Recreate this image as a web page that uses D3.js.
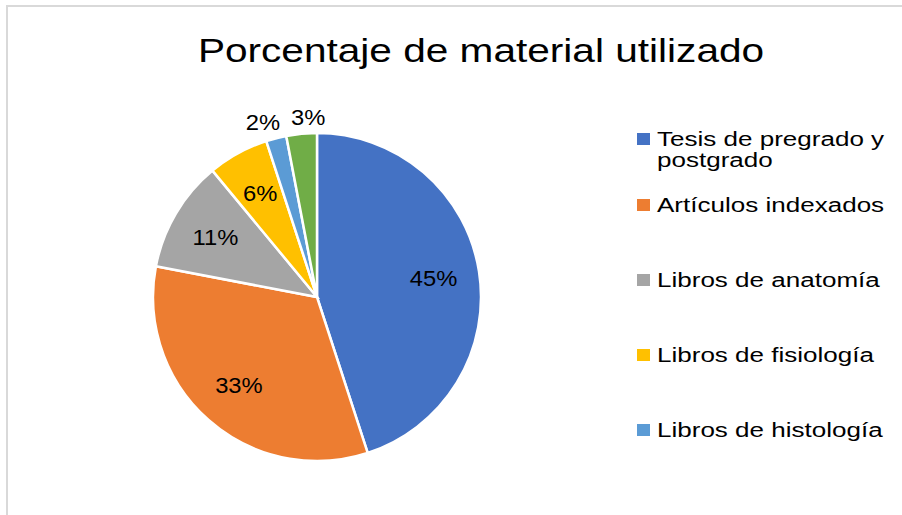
<!DOCTYPE html>
<html>
<head>
<meta charset="utf-8">
<script src="https://cdn.jsdelivr.net/npm/d3@7"></script>
<style>
  body { margin: 0; background: #fff; }
  text { font-family: "Liberation Sans", Arial, sans-serif; fill: #000; }
</style>
</head>
<body>
<div id="chart"></div>
<script>
// data
var categories = ["Tesis de pregrado y postgrado", "Artículos indexados", "Libros de anatomía",
                  "Libros de fisiología", "Libros de histología", "Otros"];
var percents = [45, 33, 11, 6, 2, 3];
var colors = ["#4472C4", "#ED7D31", "#A5A5A5", "#FFC000", "#5B9BD5", "#70AD47"];
// legend in the original only shows the first five entries (cut off)
var legendLines = [["Tesis de pregrado y", "postgrado"], ["Artículos indexados"], ["Libros de anatomía"],
                   ["Libros de fisiología"], ["Libros de histología"]];

var width = 902, height = 515;
var cx = 317, cy = 297, radius = 164;

var svg = d3.select("#chart")
    .append("svg")
    .attr("width", width)
    .attr("height", height);

// chart frame (only top and left visible)
svg.append("path")
    .attr("d", "M7,515 V6 H902")
    .attr("fill", "none")
    .attr("stroke", "#d9d9d9")
    .attr("stroke-width", 2);

// Title
svg.append("text")
    .attr("transform", "translate(481,62) scale(1.23,1)")
    .attr("text-anchor", "middle")
    .style("font-size", "33px")
    .text("Porcentaje de material utilizado");

var data = categories.map(function (c, i) { return { name: c, value: percents[i], color: colors[i] }; });

var pie = d3.pie()
    .value(function (d) { return d.value; })
    .sort(null);

var arc = d3.arc().innerRadius(0).outerRadius(radius);
var inLabel = d3.arc().innerRadius(radius * 0.72).outerRadius(radius * 0.72);
var outLabel = d3.arc().innerRadius(radius * 1.1).outerRadius(radius * 1.1);

var g = svg.append("g")
    .attr("transform", "translate(" + cx + "," + cy + ")");

var arcs = pie(data);

g.selectAll(".slice")
    .data(arcs)
    .enter()
    .append("path")
    .attr("d", arc)
    .attr("fill", function (d) { return d.data.color; })
    .attr("stroke", "#fff")
    .attr("stroke-width", 2.5);

// Slice labels; the two small slices get theirs outside, pushed apart
var outCount = 0;
g.selectAll(".lbl")
    .data(arcs)
    .enter()
    .append("text")
    .attr("transform", function (d) {
        var p;
        if (d.data.value < 5) {
            p = outLabel.centroid(d);
            d.anchor = outCount === 0 ? "end" : "start";
            p[0] += outCount === 0 ? 8 : -9;
            outCount++;
        } else {
            p = inLabel.centroid(d);
            d.anchor = "middle";
        }
        return "translate(" + p[0] + "," + p[1] + ") scale(1.08,1)";
    })
    .attr("text-anchor", function (d) { return d.anchor; })
    .attr("dy", "0.35em")
    .style("font-size", "22px")
    .text(function (d) { return d.data.value + "%"; });

// Legend
var legY = d3.scaleLinear().domain([1, 4]).range([212, 437]);
var legend = svg.selectAll(".leg")
    .data(legendLines)
    .enter()
    .append("g")
    .attr("transform", function (d, i) {
        return "translate(637," + (i === 0 ? 146 : legY(i)) + ")";
    });

legend.append("rect")
    .attr("x", 0)
    .attr("y", -13)
    .attr("width", 13)
    .attr("height", 12)
    .attr("fill", function (d, i) { return colors[i]; });

legend.selectAll("text")
    .data(function (d) { return d; })
    .enter()
    .append("text")
    .attr("transform", function (d, i) { return "translate(20," + (i * 21) + ") scale(1.24,1)"; })
    .style("font-size", "21px")
    .text(function (d) { return d; });
</script>
</body>
</html>
